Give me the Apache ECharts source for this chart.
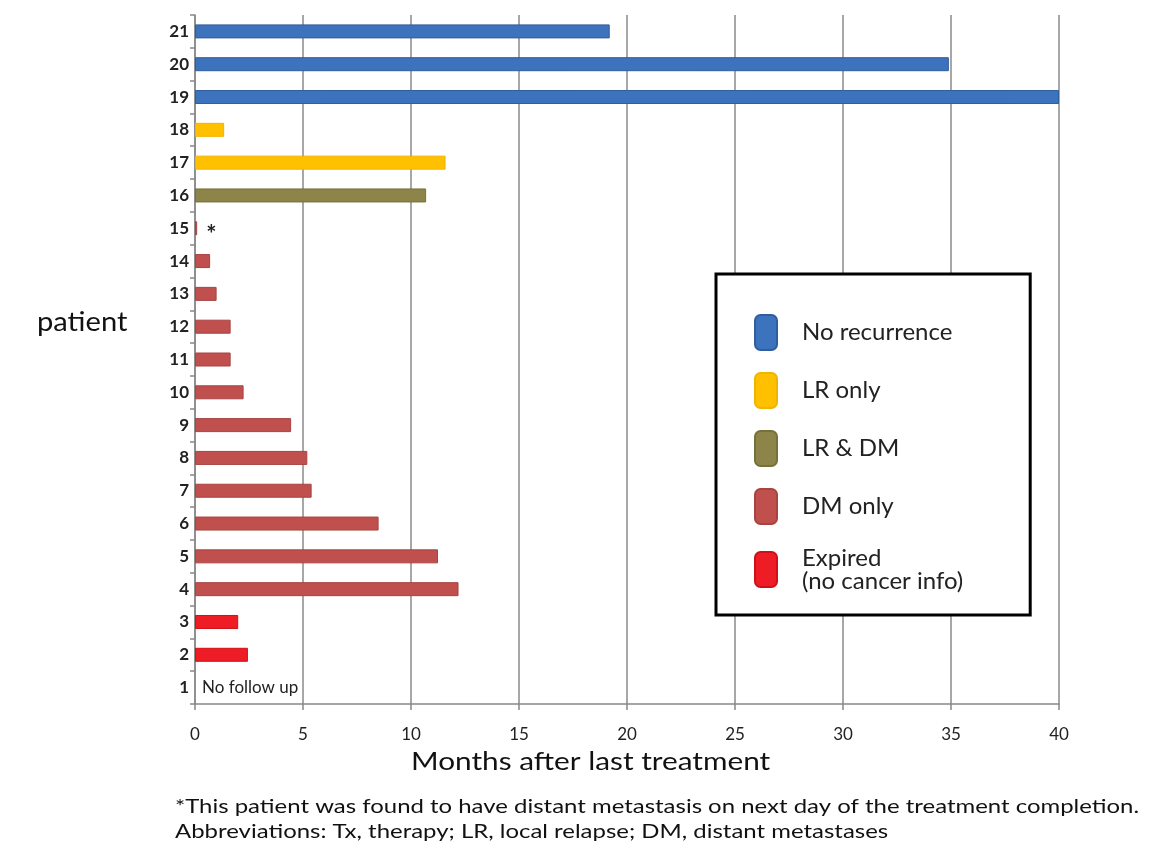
<!DOCTYPE html>
<html lang="en" style="height: 100%">
  <head>
    <meta charset="utf-8" />
  </head>
  <body style="height: 100%; margin: 0; overflow: hidden; background: #fff">
    <div id="container" style="width: 1156px; height: 863px"></div>
    <script type="text/javascript" src="https://cdn.jsdelivr.net/npm/echarts@6/dist/echarts.min.js"></script>
    <script type="text/javascript">
      // patients bottom to top, months after last treatment, outcome group
      const patients = ['1', '2', '3', '4', '5', '6', '7', '8', '9', '10', '11', '12', '13', '14', '15', '16', '17', '18', '19', '20', '21']
      const months = [0, 2.45, 2.0, 12.2, 11.25, 8.5, 5.4, 5.2, 4.45, 2.25, 1.65, 1.65, 1.0, 0.7, 0.1, 10.7, 11.6, 1.35, 40, 34.9, 19.2]
      const groups = [
        'DM only', 'Expired\n(no cancer info)', 'Expired\n(no cancer info)',
        'DM only', 'DM only', 'DM only', 'DM only', 'DM only', 'DM only', 'DM only',
        'DM only', 'DM only', 'DM only', 'DM only', 'DM only',
        'LR & DM', 'LR only', 'LR only',
        'No recurrence', 'No recurrence', 'No recurrence',
      ]
      const groupNames = ['No recurrence', 'LR only', 'LR & DM', 'DM only', 'Expired\n(no cancer info)']
      const groupColors = ['#3d72bd', '#ffc000', '#8c8448', '#c0504d', '#ee1c25']
      const groupBorders = ['#2f5d9e', '#f0b400', '#76703a', '#a84340', '#d01018']
      const notes = {
        '1': 'No follow up',
        '15': '*',
      }

      const FONT = 'Lato, "Open Sans", sans-serif'

      const dom = document.getElementById('container')
      const myChart = echarts.init(dom, null, { renderer: 'canvas' })

      const series = groupNames.map((g, gi) => {
        const data = months.map((m, i) => {
          if (groups[i] !== g) return '-'
          const note = notes[patients[i]]
          if (!note) return m
          const star = note === '*'
          return {
            value: m,
            itemStyle: star ? {} : { borderWidth: 0 },
            label: {
              show: true,
              position: 'right',
              formatter: note,
              distance: star ? 9 : 7,
              color: '#222',
              fontFamily: FONT,
              fontSize: star ? 24 : 17,
              fontWeight: star ? 'bold' : 'normal',
              offset: star ? [0, 7] : [0, 0],
            },
          }
        })
        return {
          name: g,
          type: 'bar',
          data: data,
          barWidth: 14,
          barGap: '-100%',
          itemStyle: {
            color: groupColors[gi],
            borderColor: groupBorders[gi],
            borderWidth: 1,
          },
          silent: true,
          animation: false,
        }
      })

      const legendData = groupNames.map((g) => {
        const twoLine = g.indexOf('\n') > -1
        return {
          name: g,
          textStyle: { lineHeight: twoLine ? 23 : 25, padding: [0, 0, 0, 20] },
        }
      })

      const option = {
        backgroundColor: '#fff',
        textStyle: { fontFamily: FONT },
        grid: { left: 195, right: 97, top: 15, bottom: 159 },
        legend: {
          orient: 'vertical',
          left: 716,
          top: 274,
          data: legendData,
          icon: 'roundRect',
          itemWidth: 22,
          itemHeight: 35,
          itemGap: 21,
          padding: [40, 67, 22, 38],
          borderColor: '#000',
          borderWidth: 3,
          backgroundColor: '#fff',
          selectedMode: false,
          textStyle: {
            fontFamily: FONT,
            fontSize: 24,
            color: '#222',
          },
        },
        xAxis: {
          type: 'value',
          min: 0,
          max: 40,
          interval: 5,
          axisLine: { show: true, lineStyle: { color: '#888', width: 1.5 } },
          axisTick: { show: true, length: 6, lineStyle: { color: '#888', width: 1.5 } },
          axisLabel: { fontSize: 17, color: '#222', margin: 22, fontFamily: FONT },
          splitLine: { show: true, lineStyle: { color: '#8a8a8a', width: 1.5 } },
        },
        yAxis: {
          type: 'category',
          data: patients,
          axisLine: { show: true, lineStyle: { color: '#888', width: 1.5 } },
          axisTick: { show: true, length: 5, lineStyle: { color: '#888', width: 1.5 } },
          axisLabel: { fontSize: 17, fontWeight: 'bold', color: '#222', margin: 6, fontFamily: FONT },
        },
        graphic: [
          {
            type: 'text',
            left: 37,
            top: 310,
            scaleX: 1.12,
            style: {
              text: 'patient',
              font: '26px ' + FONT,
              fill: '#111',
            },
          },
          {
            type: 'text',
            left: 411,
            top: 749,
            scaleX: 1.19,
            style: {
              text: 'Months after last treatment',
              font: '25px ' + FONT,
              fill: '#111',
            },
          },
          {
            type: 'text',
            left: 175,
            top: 794,
            scaleX: 1.26,
            style: {
              text: '*This patient was found to have distant metastasis on next day of the treatment completion.\nAbbreviations: Tx, therapy; LR, local relapse; DM, distant metastases',
              font: '19px ' + FONT,
              lineHeight: 25,
              fill: '#111',
            },
          },
        ],
        series: series,
      }

      myChart.setOption(option)
      window.addEventListener('resize', myChart.resize)
    </script>
  </body>
</html>
